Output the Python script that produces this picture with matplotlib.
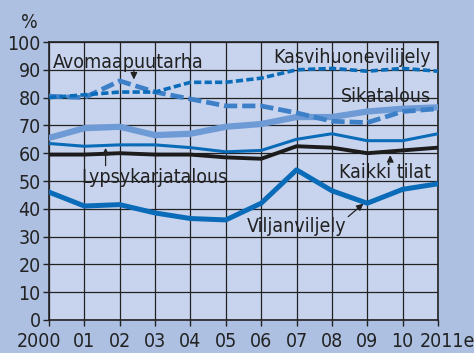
import numpy as np
import matplotlib.pyplot as plt
from matplotlib.transforms import ScaledTranslation

plt.rcParams['font.family'] = ['DejaVu Sans']
plt.rcParams['font.stretch'] = 'condensed'

years = list(range(2000, 2012))
year_labels = ['2000', '01', '02', '03', '04', '05', '06', '07', '08', '09', '10', '2011e']

kasvihuone = [80, 81, 82, 82, 85.5, 85.5, 87, 90, 90.5, 89.5, 90.5, 89.5]
avomaa = [80.5, 80, 86, 82, 79.5, 77, 77, 74.5, 71.5, 71, 75, 76]
sika = [65.5, 69, 69.5, 66.5, 67, 69.5, 70.5, 73, 73, 75, 76, 76.5]
lypsy = [63.5, 62.5, 63, 63, 62, 60.5, 61, 65, 67, 64.5, 64.5, 67]
kaikki = [59.5, 59.5, 60, 59.5, 59.5, 58.5, 58, 62.5, 62, 60, 61, 62]
vilja = [46, 41, 41.5, 38.5, 36.5, 36, 42, 54, 46.5, 42, 47, 49]

fig = plt.figure(figsize=(4.74, 3.53), dpi=100, facecolor='#adc0e2')
ax = fig.add_axes([0.1034, 0.0935, 0.8206, 0.7875])
ax.set_facecolor('#c8d4ee')

ax.plot(years, vilja, color='#0a6cb8', lw=3.6, zorder=3)
ax.plot(years, kaikki, color='#1c1c1c', lw=2.8, zorder=3)
ax.plot(years, lypsy, color='#0a6cb8', lw=2.2, zorder=3)
ax.plot(years, sika, color='#6e9bd6', lw=4.5, zorder=3)
ax.plot(years, avomaa, color='#3d80c8', lw=3.4, dashes=(2.8, 1.05), zorder=3)
ax.plot(years, kasvihuone, color='#0b6cb9', lw=2.6, dashes=(2.0, 0.9), zorder=3)

ax.set_xlim(2000, 2011)
ax.set_ylim(0, 100)
ax.set_xticks(years)
ax.set_xticklabels(year_labels)
ax.set_yticks(range(0, 101, 10))
ax.tick_params(axis='both', labelsize=14, colors='#222222', length=4, width=1, direction='out', pad=2)
ax.tick_params(axis='x', pad=5)
ax.grid(True, color='#222222', lw=0.9)
ax.set_axisbelow(True)
for side in ['left', 'bottom', 'top', 'right']:
    ax.spines[side].set_color('#222222')
    ax.spines[side].set_linewidth(1.2)

# nudge the end labels apart so they don't crowd their neighbours
xlabels = ax.get_xticklabels()
xlabels[0].set_transform(xlabels[0].get_transform() + ScaledTranslation(-0.10, 0, fig.dpi_scale_trans))
xlabels[-1].set_ha('left')
xlabels[-1].set_transform(xlabels[-1].get_transform() + ScaledTranslation(-0.185, 0, fig.dpi_scale_trans))

fig.text(0.062, 0.937, '%', fontsize=14, color='#222222', ha='center', va='center')

txt = dict(fontsize=14, color='#222222', zorder=5)
ax.text(2000.1, 92.6, 'Avomaapuutarha', ha='left', va='center', **txt)
ax.text(2010.8, 94.3, 'Kasvihuonevilijely', ha='right', va='center', **txt)
ax.text(2010.8, 80.5, 'Sikatalous', ha='right', va='center', **txt)
ax.text(2000.9, 51.2, 'Lypsykarjatalous', ha='left', va='center', **txt)
ax.text(2010.8, 53.2, 'Kaikki tilat', ha='right', va='center', **txt)
ax.text(2008.4, 33.6, 'Viljanviljely', ha='right', va='center', **txt)

arrow = dict(arrowstyle='-|>', color='#222222', lw=0.9, mutation_scale=10)
ax.annotate('', xy=(2002.4, 85.5), xytext=(2002.4, 91), arrowprops=arrow, zorder=5)
ax.annotate('', xy=(2001.6, 62.9), xytext=(2001.6, 54.5), arrowprops=arrow, zorder=5)
ax.annotate('', xy=(2009.65, 60.3), xytext=(2009.65, 56.5), arrowprops=arrow, zorder=5)
ax.annotate('', xy=(2008.95, 42.5), xytext=(2008.4, 36.5), arrowprops=arrow, zorder=5)

fig.savefig('out.png', dpi=100, facecolor=fig.get_facecolor())
